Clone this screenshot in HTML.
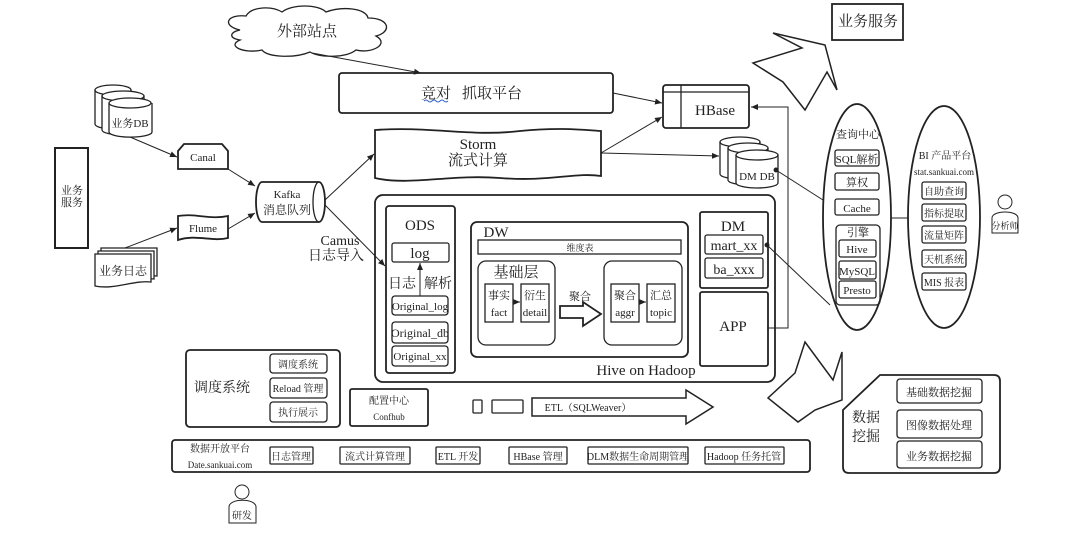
<!DOCTYPE html>
<html><head><meta charset="utf-8"><style>
html,body{margin:0;padding:0;background:#fff;}
svg{display:block;}
text{font-family:"Liberation Serif","Noto Serif CJK SC",serif;fill:#222;}
</style></head><body>
<svg width="1080" height="539" viewBox="0 0 1080 539" xmlns="http://www.w3.org/2000/svg">
<defs>
<marker id="a" markerWidth="8" markerHeight="8" refX="7" refY="4" orient="auto" markerUnits="userSpaceOnUse"><path d="M0,1 L7,4 L0,7 z" fill="#222"/></marker>
</defs>
<g fill="none" stroke="#222" stroke-width="1.3">
<path d="M240,30 C222,26 226,14 246,16 C252,6 272,6 282,12 C292,4 318,4 326,12 C342,6 366,8 368,18 C390,18 392,32 376,36 C390,44 372,54 356,50 C346,58 320,58 310,52 C296,58 268,58 262,50 C244,54 226,46 240,40 C228,38 230,32 240,30 z"/>
<line x1="312" y1="53" x2="421" y2="73" marker-end="url(#a)" stroke-width="1"/>
<rect x="339" y="73" width="274" height="40" rx="3" stroke-width="1.8"/>
<path d="M375,130 C430,126 470,137 520,131 C560,127 585,130 601,131 L601,176 C575,172 550,182 500,178 C450,174 410,186 375,178 z" stroke-width="1.8"/>
<rect x="663" y="85" width="86" height="43" rx="3" stroke-width="1.8"/>
<line x1="681" y1="85" x2="681" y2="128"/><line x1="663" y1="92" x2="749" y2="92"/>
<line x1="613" y1="93" x2="662" y2="103" marker-end="url(#a)" stroke-width="1"/>
<line x1="601" y1="153" x2="662" y2="117" marker-end="url(#a)" stroke-width="1"/>
<line x1="601" y1="153" x2="719" y2="156" marker-end="url(#a)" stroke-width="1"/>
<g fill="#fff">
<path d="M720,142 L720,174 A20,5 0 0 0 760,174 L760,142"/><ellipse cx="740" cy="142" rx="20" ry="5"/>
<path d="M728,148 L728,180 A20,5 0 0 0 768,180 L768,148"/><ellipse cx="748" cy="148" rx="20" ry="5"/>
<path d="M736,155 L736,183 A21,5 0 0 0 778,183 L778,155"/><ellipse cx="757" cy="155" rx="21" ry="5"/>
</g>
<rect x="832" y="4" width="71" height="36" stroke-width="1.8"/>
<polygon points="773,33 802,48 753,63 783,82 805,110 827,72 837,90 825,45" stroke-width="1.5"/>
<rect x="55" y="148" width="33" height="100" stroke-width="2"/>
<g fill="#fff">
<path d="M95,90 L95,124 A18,5 0 0 0 131,124 L131,90"/><ellipse cx="113" cy="90" rx="18" ry="5"/>
<path d="M102,96 L102,130 A21,5 0 0 0 144,130 L144,96"/><ellipse cx="123" cy="96" rx="21" ry="5"/>
<path d="M109,103 L109,132 A21,5 0 0 0 152,132 L152,103"/><ellipse cx="130" cy="103" rx="21" ry="5"/>
</g>
<path d="M184,144 L222,144 L228,151 L228,169 L178,169 L178,151 z" stroke-width="1.8"/>
<path d="M178,216 C195,213 210,220 228,216 L228,238 C212,242 196,234 178,240 z" stroke-width="1.8"/>
<g fill="#fff">
<path d="M101,248 L157,248 L157,276 C140,274 120,284 101,280 z"/>
<path d="M98,251 L154,251 L154,279 C137,277 117,287 98,283 z"/>
<path d="M95,254 L151,254 L151,282 C134,280 114,290 95,286 z"/>
</g>
<path d="M262,182 L319,182 A6,20 0 0 1 319,222 L262,222 A6,20 0 0 1 262,182 z" stroke-width="1.8"/>
<path d="M319,182 A6,20 0 0 0 319,222"/>
<g stroke-width="1">
<line x1="130" y1="137" x2="177" y2="157" marker-end="url(#a)"/>
<line x1="228" y1="169" x2="255" y2="186" marker-end="url(#a)"/>
<line x1="228" y1="229" x2="255" y2="213" marker-end="url(#a)"/>
<line x1="125" y1="248" x2="177" y2="228" marker-end="url(#a)"/>
<line x1="325" y1="200" x2="374" y2="154" marker-end="url(#a)"/>
<line x1="325" y1="205" x2="385" y2="266" marker-end="url(#a)"/>
</g>
<rect x="375" y="195" width="400" height="187" rx="8" stroke-width="1.8"/>
<rect x="386" y="206" width="69" height="167" rx="3" stroke-width="1.8"/>
<rect x="392" y="243" width="57" height="19" rx="2"/>
<line x1="420" y1="296" x2="420" y2="263" marker-end="url(#a)" stroke-width="1"/>
<rect x="392" y="296" width="56" height="19" rx="3"/>
<rect x="392" y="322" width="56" height="21" rx="3"/>
<rect x="392" y="346" width="56" height="20" rx="3"/>
<rect x="471" y="222" width="217" height="135" rx="6" stroke-width="1.8"/>
<rect x="478" y="240" width="203" height="14"/>
<rect x="478" y="261" width="77" height="84" rx="8"/>
<rect x="485" y="284" width="28" height="38"/>
<rect x="521" y="284" width="28" height="38"/>
<line x1="513" y1="302" x2="520" y2="302" marker-end="url(#a)" stroke-width="1"/>
<polygon points="560,306 583,306 583,302 601,314 583,326 583,318 560,318" stroke-width="1.8"/>
<rect x="604" y="261" width="78" height="84" rx="8"/>
<rect x="611" y="284" width="28" height="38"/>
<rect x="647" y="284" width="28" height="38"/>
<line x1="639" y1="302" x2="646" y2="302" marker-end="url(#a)" stroke-width="1"/>
<rect x="700" y="212" width="68" height="76" rx="2" stroke-width="1.8"/>
<rect x="705" y="235" width="58" height="19" rx="2"/>
<rect x="705" y="258" width="58" height="20" rx="2"/>
<rect x="700" y="292" width="68" height="74" rx="2" stroke-width="1.8"/>
<polyline points="767,328 788,328 788,107 751,107" stroke-width="1" marker-end="url(#a)"/>
<ellipse cx="857" cy="217" rx="34" ry="113" stroke-width="1.8"/>
<ellipse cx="944" cy="217" rx="36" ry="111" stroke-width="1.8"/>
<line x1="891" y1="218" x2="908" y2="218" stroke-width="1"/>
<rect x="835" y="150" width="44" height="16" rx="2"/>
<rect x="835" y="173" width="44" height="17" rx="2"/>
<rect x="835" y="199" width="44" height="16" rx="2"/>
<rect x="836" y="225" width="44" height="80" rx="4"/>
<rect x="839" y="240" width="37" height="17" rx="2"/>
<rect x="839" y="261" width="37" height="18" rx="2"/>
<rect x="839" y="281" width="37" height="17" rx="2"/>
<rect x="922" y="182" width="44" height="17" rx="2"/>
<rect x="922" y="204" width="44" height="17" rx="2"/>
<rect x="922" y="226" width="44" height="17" rx="2"/>
<rect x="922" y="250" width="44" height="17" rx="2"/>
<rect x="922" y="273" width="44" height="17" rx="2"/>
<line x1="776" y1="170" x2="823" y2="200" stroke-width="1"/>
<circle cx="776" cy="170" r="1.8" fill="#222"/>
<line x1="767" y1="245" x2="830" y2="305" stroke-width="1"/>
<circle cx="767" cy="245" r="1.8" fill="#222"/>
<circle cx="1005" cy="202" r="7" stroke-width="1"/>
<path d="M992,233 L992,218 C992,210 1018,210 1018,218 L1018,233 z" stroke-width="1"/>
<rect x="186" y="350" width="154" height="77" rx="4" stroke-width="1.8"/>
<rect x="270" y="354" width="57" height="19" rx="3"/>
<rect x="270" y="378" width="57" height="20" rx="3"/>
<rect x="270" y="402" width="57" height="20" rx="3"/>
<rect x="350" y="389" width="78" height="37" rx="2" stroke-width="1.8"/>
<rect x="473" y="400" width="9" height="13" rx="1"/>
<rect x="492" y="400" width="31" height="13" rx="1"/>
<polygon points="532,398 686,398 686,390 713,407 686,424 686,416 532,416" stroke-width="1.5"/>
<polygon points="805,342 833,380 842,352 842,400 815,410 798,422 768,398 795,373" stroke-width="1.5"/>
<path d="M880,375 L994,375 Q1000,375 1000,381 L1000,467 Q1000,473 994,473 L849,473 Q843,473 843,467 L843,410 z" stroke-width="1.8"/>
<rect x="897" y="379" width="85" height="24" rx="3"/>
<rect x="897" y="410" width="85" height="28" rx="3"/>
<rect x="897" y="441" width="85" height="27" rx="3"/>
<rect x="172" y="440" width="638" height="32" rx="3" stroke-width="1.8"/>
<rect x="270" y="447" width="43" height="17" rx="1"/>
<rect x="340" y="447" width="70" height="17" rx="1"/>
<rect x="436" y="447" width="44" height="17" rx="1"/>
<rect x="509" y="447" width="58" height="17" rx="1"/>
<rect x="588" y="447" width="100" height="17" rx="1"/>
<rect x="705" y="447" width="79" height="17" rx="1"/>
<circle cx="242" cy="492" r="7" stroke-width="1"/>
<path d="M229,523 L229,507 C229,498 256,498 256,507 L256,523 z" stroke-width="1"/>
</g>
<g text-anchor="middle">
<text x="307" y="36" font-size="15">外部站点</text>
<text x="436" y="98" font-size="15">竞对</text>
<path d="M424,101 q2,-2 4,0 t4,0 t4,0 t4,0 t4,0 t4,0" fill="none" stroke="#36c" stroke-width="1"/>
<text x="492" y="98" font-size="15">抓取平台</text>
<text x="478" y="149" font-size="15">Storm</text>
<text x="478" y="165" font-size="15">流式计算</text>
<text x="715" y="115" font-size="15">HBase</text>
<text x="757" y="180" font-size="11">DM DB</text>
<text x="868" y="26" font-size="15">业务服务</text>
<text x="72" y="194" font-size="11">业务</text>
<text x="72" y="206" font-size="11">服务</text>
<text x="130" y="127" font-size="11">业务DB</text>
<text x="203" y="161" font-size="11">Canal</text>
<text x="203" y="232" font-size="11">Flume</text>
<text x="123" y="275" font-size="12">业务日志</text>
<text x="287" y="198" font-size="11">Kafka</text>
<text x="287" y="214" font-size="12">消息队列</text>
<text x="340" y="245" font-size="14">Camus</text>
<text x="336" y="260" font-size="14">日志导入</text>
<text x="420" y="230" font-size="15">ODS</text>
<text x="420" y="258" font-size="15">log</text>
<text x="402" y="288" font-size="14">日志</text>
<text x="438" y="288" font-size="14">解析</text>
<text x="420" y="310" font-size="11">Original_log</text>
<text x="420" y="337" font-size="12">Original_db</text>
<text x="420" y="360" font-size="11">Original_xx</text>
<text x="496" y="237" font-size="15">DW</text>
<text x="580" y="251" font-size="9">维度表</text>
<text x="516" y="277" font-size="15">基础层</text>
<text x="499" y="299" font-size="11">事实</text>
<text x="499" y="316" font-size="11">fact</text>
<text x="535" y="299" font-size="11">衍生</text>
<text x="535" y="316" font-size="11">detail</text>
<text x="580" y="300" font-size="11">聚合</text>
<text x="625" y="299" font-size="11">聚合</text>
<text x="625" y="316" font-size="11">aggr</text>
<text x="661" y="299" font-size="11">汇总</text>
<text x="661" y="316" font-size="11">topic</text>
<text x="646" y="375" font-size="15">Hive on Hadoop</text>
<text x="733" y="231" font-size="15">DM</text>
<text x="734" y="250" font-size="14">mart_xx</text>
<text x="734" y="274" font-size="14">ba_xxx</text>
<text x="733" y="331" font-size="15">APP</text>
<text x="858" y="138" font-size="11">查询中心</text>
<text x="857" y="163" font-size="11">SQL解析</text>
<text x="857" y="186" font-size="11">算权</text>
<text x="857" y="212" font-size="11">Cache</text>
<text x="858" y="236" font-size="11">引擎</text>
<text x="857" y="253" font-size="11">Hive</text>
<text x="857" y="275" font-size="11">MySQL</text>
<text x="857" y="294" font-size="11">Presto</text>
<text x="945" y="159" font-size="10">BI 产品平台</text>
<text x="944" y="175" font-size="9">stat.sankuai.com</text>
<text x="944" y="195" font-size="10">自助查询</text>
<text x="944" y="217" font-size="10">指标提取</text>
<text x="944" y="239" font-size="10">流量矩阵</text>
<text x="944" y="263" font-size="10">天机系统</text>
<text x="944" y="286" font-size="10">MIS 报表</text>
<text x="1005" y="229" font-size="9">分析师</text>
<text x="222" y="392" font-size="14">调度系统</text>
<text x="298" y="368" font-size="10">调度系统</text>
<text x="298" y="392" font-size="10">Reload 管理</text>
<text x="298" y="416" font-size="10">执行展示</text>
<text x="389" y="404" font-size="10">配置中心</text>
<text x="389" y="420" font-size="9">Confhub</text>
<text x="588" y="411" font-size="10">ETL（SQLWeaver）</text>
<text x="866" y="422" font-size="14">数据</text>
<text x="866" y="441" font-size="14">挖掘</text>
<text x="939" y="396" font-size="11">基础数据挖掘</text>
<text x="939" y="429" font-size="11">图像数据处理</text>
<text x="939" y="460" font-size="11">业务数据挖掘</text>
<text x="220" y="452" font-size="10">数据开放平台</text>
<text x="220" y="468" font-size="9">Date.sankuai.com</text>
<text x="291" y="460" font-size="10">日志管理</text>
<text x="375" y="460" font-size="10">流式计算管理</text>
<text x="458" y="460" font-size="10">ETL 开发</text>
<text x="538" y="460" font-size="10">HBase 管理</text>
<text x="638" y="460" font-size="10">DLM数据生命周期管理</text>
<text x="744" y="460" font-size="10">Hadoop 任务托管</text>
<text x="242" y="519" font-size="10">研发</text>
</g>
</svg>
</body></html>
